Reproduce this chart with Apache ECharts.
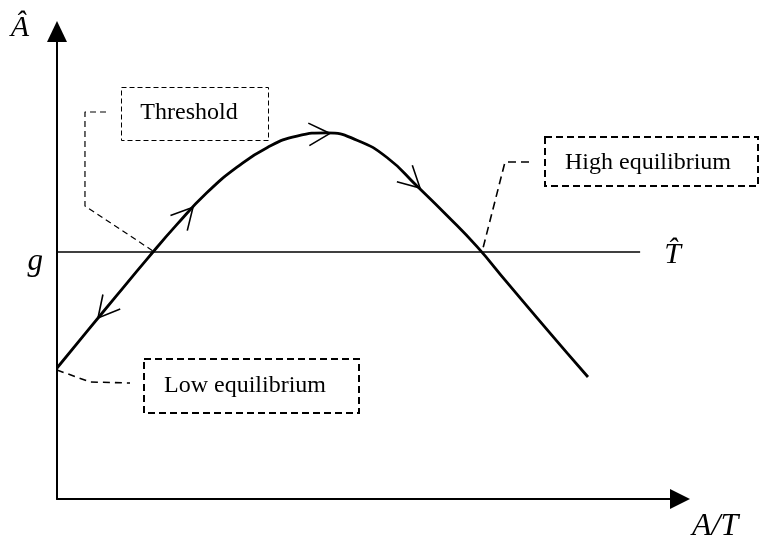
<!DOCTYPE html>
<html>
<head>
<meta charset="utf-8">
<script src="https://cdn.jsdelivr.net/npm/echarts@6/dist/echarts.min.js"></script>
<style>
html,body{margin:0;padding:0;background:#ffffff;}
#chart{width:762px;height:549px;}
</style>
</head>
<body>
<div id="chart"></div>
<script>
// ---- data (in axis units 0..100) ----
const curveX = [0, 4.82, 9.63, 14.45, 19.26, 24.08, 28.89, 33.71, 38.52, 43.34, 48.15, 52.97, 57.78, 62.60, 67.42, 72.23, 77.05, 81.86, 85.23];
const curveY = [28.02, 35.85, 43.61, 51.32, 58.74, 65.54, 70.97, 75.14, 77.63, 78.33, 76.75, 73.05, 66.95, 60.64, 53.97, 46.33, 38.74, 31.27, 26.10];
const gLevel = 52.83;
const gLineX = [0, 93.6];
// flow arrows: [tipX, tipY, tailX, tailY]
const flowArrows = [
  [6.58, 38.72, 15.41, 52.83],
  [21.83, 62.40, 15.41, 52.83],
  [43.82, 78.20, 39.0, 77.9],
  [58.27, 66.52, 52.97, 73.16]
];
const annotationLabels = ['Threshold', 'High equilibrium', 'Low equilibrium'];
const leaderThreshold = [[7.87, 82.78], [4.49, 82.78], [4.49, 62.67], [15.41, 53.05]];
const leaderHigh = [[75.76, 72.09], [71.91, 72.09], [68.22, 52.83]];
const leaderLow = [[0, 27.59], [5.30, 25.03], [11.72, 24.81]];
const xAxisName = 'A/T';
const yAxisName = '\u00C2';
const lineName = 'T\u0302';
const levelLabel = 'g';

const serif = '"Liberation Serif", "Times New Roman", serif';
const curveData = curveX.map((x, i) => [x, curveY[i]]);

const chart = echarts.init(document.getElementById('chart'), null, {renderer: 'canvas'});
chart.setOption({
  animation: false,
  backgroundColor: '#ffffff',
  grid: {left: 57, right: 82, top: 31.5, bottom: 50, containLabel: false, outerBoundsMode: 'none'},
  xAxis: {
    type: 'value', min: 0, max: 100,
    name: xAxisName, nameLocation: 'end', nameGap: 12,
    nameTextStyle: {fontFamily: serif, fontStyle: 'italic', fontSize: 32, color: '#000', verticalAlign: 'top', align: 'left', padding: [12, 0, 0, 0]},
    axisLine: {show: true, onZero: false, symbol: ['none', 'triangle'], symbolSize: [20, 20], lineStyle: {color: '#000', width: 2}},
    axisTick: {show: false}, axisLabel: {show: false}, splitLine: {show: false}
  },
  yAxis: {
    type: 'value', min: 0, max: 100,
    name: yAxisName, nameLocation: 'end', nameGap: -12,
    nameTextStyle: {fontFamily: serif, fontStyle: 'italic', fontSize: 30, color: '#000', align: 'right', verticalAlign: 'bottom', padding: [0, 28, 0, 0]},
    axisLine: {show: true, onZero: false, symbol: ['none', 'triangle'], symbolSize: [20, 21], lineStyle: {color: '#000', width: 2}},
    axisTick: {show: false},
    axisLabel: {
      show: true, customValues: [gLevel], formatter: () => levelLabel,
      fontFamily: serif, fontStyle: 'italic', fontSize: 31, color: '#000', margin: 14,
      verticalAlign: 'top', lineHeight: 20
    },
    splitLine: {show: false}
  },
  series: [
    {
      type: 'line', name: 'curve', data: curveData, smooth: 0.5, showSymbol: false,
      lineStyle: {color: '#000', width: 2.8}, z: 5
    },
    {
      type: 'line', name: 'level', data: gLineX.map(x => [x, gLevel]), showSymbol: false,
      lineStyle: {color: '#000', width: 1.6}, z: 4,
      endLabel: {show: true, formatter: () => lineName, distance: 24, offset: [0, 3],
        fontFamily: serif, fontStyle: 'italic', fontSize: 30, color: '#000'}
    },
    {
      type: 'line', name: annotationLabels[0], data: leaderThreshold, showSymbol: false,
      lineStyle: {color: '#000', width: 1.2, type: [6, 4]}, z: 3
    },
    {
      type: 'line', name: annotationLabels[1], data: leaderHigh, showSymbol: false,
      lineStyle: {color: '#000', width: 1.6, type: [8, 5]}, z: 3
    },
    {
      type: 'line', name: annotationLabels[2], data: leaderLow, showSymbol: false,
      lineStyle: {color: '#000', width: 1.6, type: [7, 5]}, z: 3
    },
    {
      type: 'custom', name: 'flow', data: flowArrows, clip: false, z: 6,
      encode: {x: [0, 2], y: [1, 3]},
      renderItem: function (params, api) {
        const tip = api.coord([api.value(0), api.value(1)]);
        const tail = api.coord([api.value(2), api.value(3)]);
        const ang = Math.atan2(tip[1] - tail[1], tip[0] - tail[0]);
        const L = 24, a = 28 * Math.PI / 180;
        const p1 = [tip[0] - L * Math.cos(ang - a), tip[1] - L * Math.sin(ang - a)];
        const p2 = [tip[0] - L * Math.cos(ang + a), tip[1] - L * Math.sin(ang + a)];
        return {type: 'polyline', shape: {points: [p1, tip, p2]},
          style: {stroke: '#000', lineWidth: 1.6, fill: null}};
      }
    }
  ],
  graphic: [
    {type: 'rect', shape: {x: 121.5, y: 87.5, width: 147, height: 53},
      style: {fill: null, stroke: '#000', lineWidth: 1, lineDash: [5, 3]}},
    {type: 'text', x: 189, y: 113,
      style: {text: annotationLabels[0], font: '24px ' + serif, fill: '#000', align: 'center', verticalAlign: 'middle'}},
    {type: 'rect', shape: {x: 545, y: 137, width: 213, height: 49},
      style: {fill: null, stroke: '#000', lineWidth: 2, lineDash: [7, 4]}},
    {type: 'text', x: 648, y: 163,
      style: {text: annotationLabels[1], font: '24px ' + serif, fill: '#000', align: 'center', verticalAlign: 'middle'}},
    {type: 'rect', shape: {x: 144, y: 359, width: 215, height: 54},
      style: {fill: null, stroke: '#000', lineWidth: 2, lineDash: [7, 4]}},
    {type: 'text', x: 245, y: 386,
      style: {text: annotationLabels[2], font: '24px ' + serif, fill: '#000', align: 'center', verticalAlign: 'middle'}}
  ]
});
</script>
</body>
</html>
